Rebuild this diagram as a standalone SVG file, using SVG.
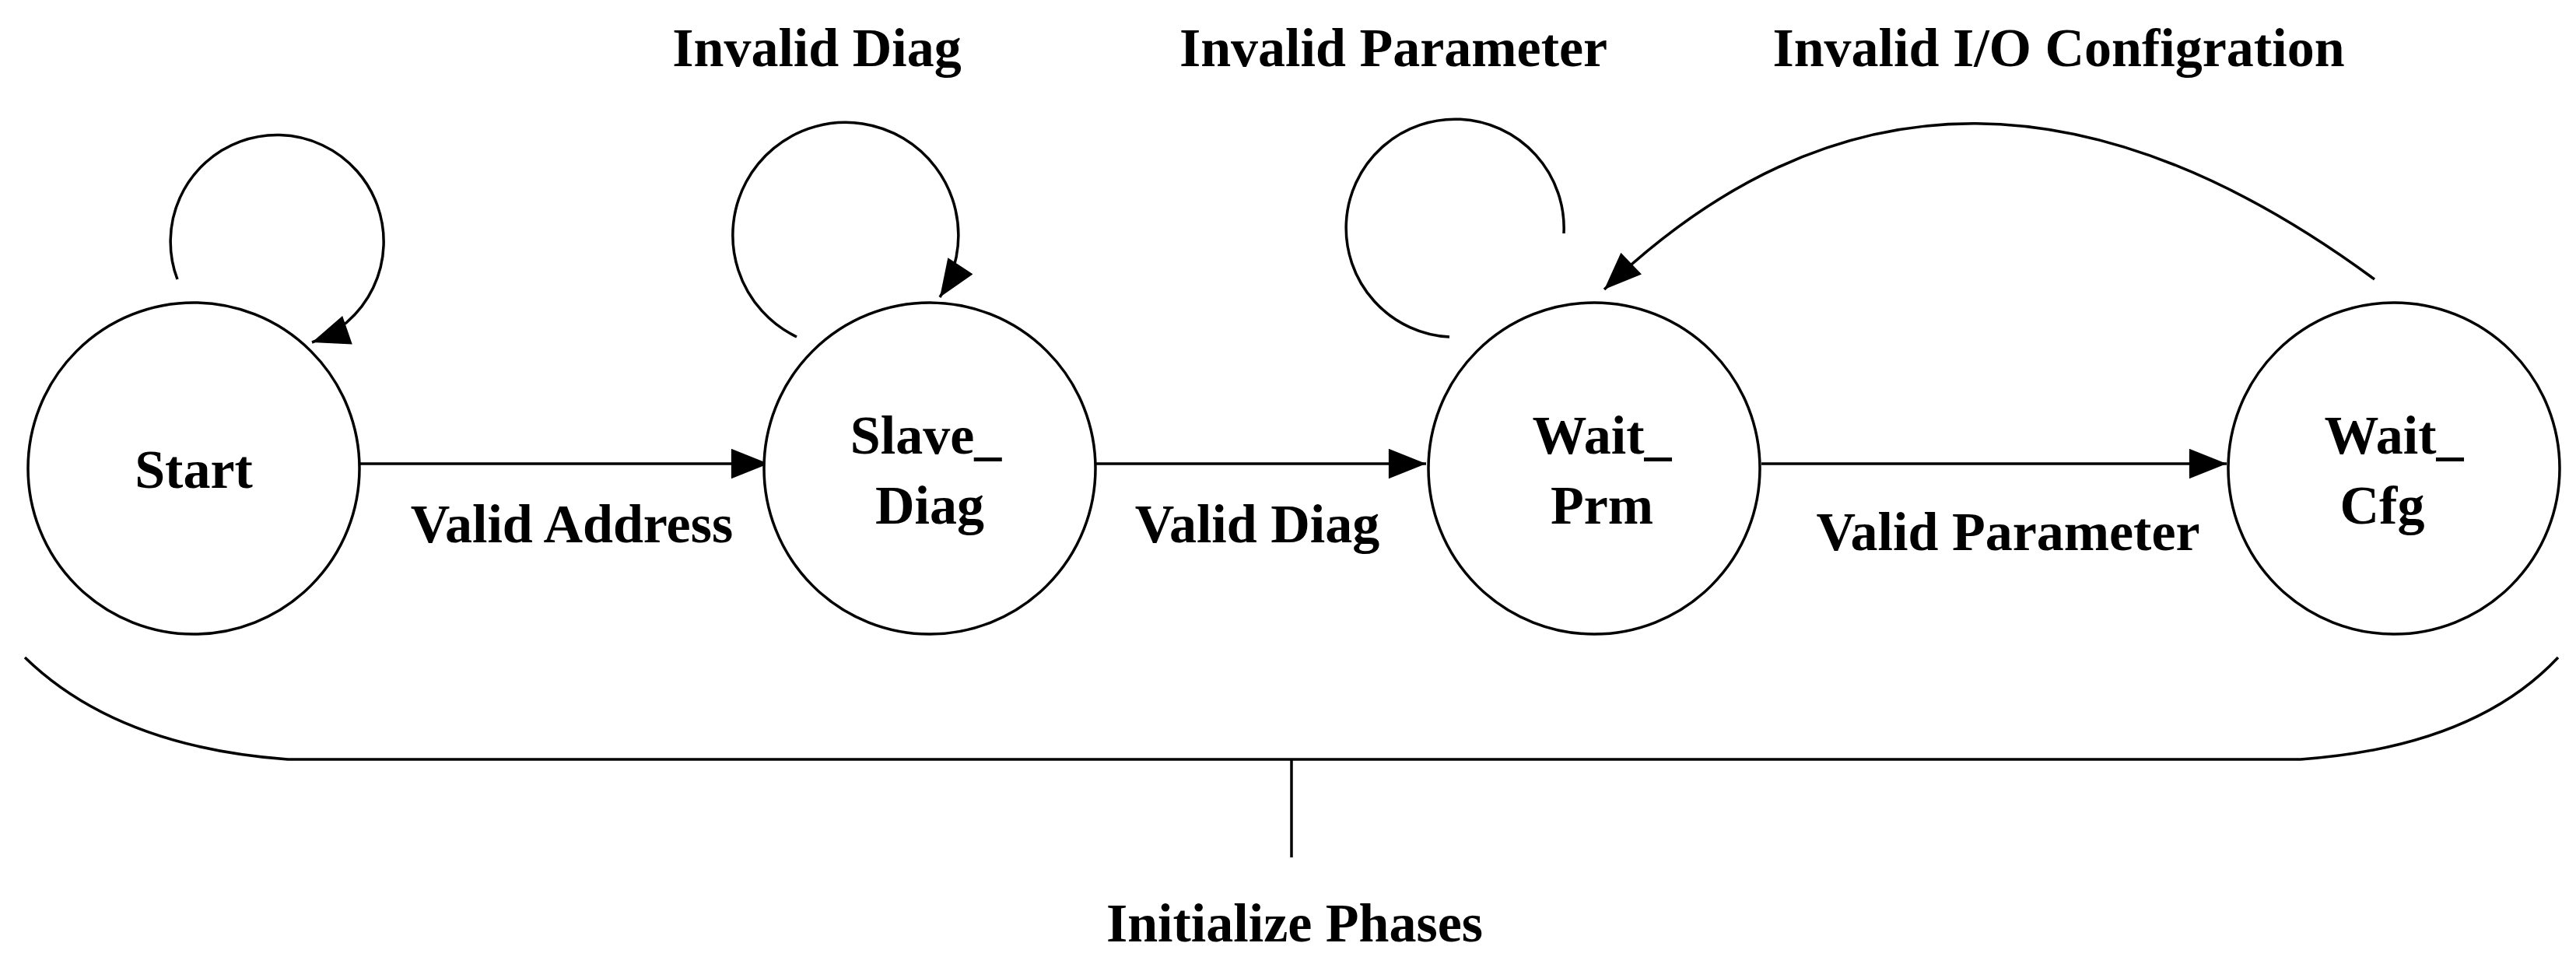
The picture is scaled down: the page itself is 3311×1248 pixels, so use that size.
<svg xmlns="http://www.w3.org/2000/svg" width="3311" height="1248" viewBox="0 0 3311 1248">
<style>
.n{fill:#fff;stroke:#000;stroke-width:3.5}
.c{fill:none;stroke:#000;stroke-width:3.5}
text{font-family:"Liberation Serif",serif;font-weight:bold;font-size:70px;text-anchor:middle;fill:#000}
</style>
<defs>
<marker id="a" viewBox="0 0 20 16" refX="20" refY="8" markerWidth="14" markerHeight="11" markerUnits="strokeWidth" orient="auto"><path d="M0,0L20,8L0,16Z" fill="#000"/></marker>
</defs>
<rect width="3311" height="1248" fill="#fff"/>
<g id="connectors">
<path class="c" d="M460,596H988" marker-end="url(#a)"/>
<path class="c" d="M1400,596H1833" marker-end="url(#a)"/>
<path class="c" d="M2264,596H2862" marker-end="url(#a)"/>
<path class="c" d="M228,359A137,137 0 1 1 401,440" marker-end="url(#a)"/>
<path class="c" d="M1024,433A145,145 0 1 1 1208,382" marker-end="url(#a)"/>
<path class="c" d="M1863,433A140,140 0 1 1 2010,300"/>
<path class="c" d="M3052,359Q2500,-48 2062,372" marker-end="url(#a)"/>
<path class="c" d="M32,845Q150,960 370,976H2957Q3180,960 3288,845"/>
<path class="c" d="M1660,976V1102"/>
</g>
<g id="start"><circle class="n" cx="249" cy="602" r="213"/><text x="249" y="627">Start</text></g>
<g id="slave"><circle class="n" cx="1195" cy="602" r="213"/><text x="1190" y="583">Slave_</text><text x="1195" y="673">Diag</text></g>
<g id="prm"><circle class="n" cx="2049" cy="602" r="213"/><text x="2059" y="583">Wait_</text><text x="2059" y="673">Prm</text></g>
<g id="cfg"><circle class="n" cx="3077" cy="602" r="213"/><text x="3077" y="583">Wait_</text><text x="3062" y="673">Cfg</text></g>
<g id="labels">
<text x="735" y="697">Valid Address</text>
<text x="1616" y="697">Valid Diag</text>
<text x="2581" y="707">Valid Parameter</text>
<text x="1050" y="85">Invalid Diag</text>
<text x="1791" y="85">Invalid Parameter</text>
<text x="2646" y="85">Invalid I/O Configration</text>
<text x="1664" y="1210">Initialize Phases</text>
</g>
</svg>
